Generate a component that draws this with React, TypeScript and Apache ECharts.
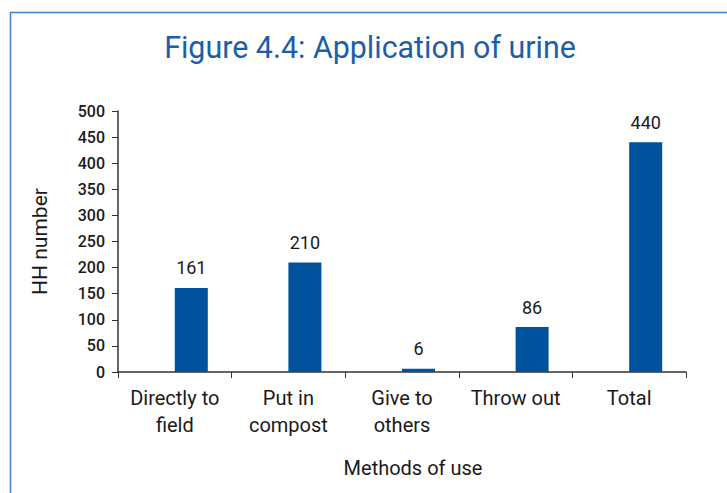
import React, { useEffect, useRef } from "react";
import * as echarts from "echarts";

const categories = ["Directly to\nfield", "Put in\ncompost", "Give to\nothers", "Throw out", "Total"];
const values = [161, 210, 6, 86, 440];
const titleText = "Figure 4.4: Application of urine";
const yAxisName = "HH number";
const xAxisName = "Methods of use";

export default function App() {
  const ref = useRef<HTMLDivElement>(null);
  useEffect(() => {
    if (!ref.current) return;
    const chart = echarts.init(ref.current, null, { renderer: "svg" });
    const font = "Roboto, 'Noto Sans', sans-serif";
    chart.setOption({
      animation: false,
      backgroundColor: "#ffffff",
      graphic: [
        {
          type: "rect",
          shape: { x: 10.5, y: 12.5, width: 800, height: 600 },
          style: { fill: "none", stroke: "#3f7fc2", lineWidth: 1.5 },
          silent: true,
        },
        {
          type: "text",
          x: 370,
          y: 47,
          scaleX: 0.95,
          originX: 0,
          style: {
            text: titleText,
            fill: "#1d5ea8",
            fontSize: 32,
            fontFamily: font,
            fontWeight: "normal",
            align: "center",
            verticalAlign: "middle",
          },
          silent: true,
        },
      ],
      grid: { left: 118, right: 41, top: 111, bottom: 121 },
      xAxis: {
        type: "category",
        data: categories,
        name: xAxisName,
        nameLocation: "middle",
        nameGap: 86,
        nameTextStyle: { color: "#1a1a1a", fontSize: 20, fontFamily: font, padding: [0, 0, 0, 22] },
        axisLine: { lineStyle: { color: "#333", width: 1.5 } },
        axisTick: { show: true, length: 6, alignWithLabel: false, lineStyle: { color: "#333" } },
        axisLabel: { color: "#1a1a1a", fontSize: 20, fontFamily: font, lineHeight: 27, margin: 12, interval: 0 },
      },
      yAxis: {
        type: "value",
        min: 0,
        max: 500,
        interval: 50,
        name: yAxisName,
        nameLocation: "middle",
        nameGap: 68,
        nameTextStyle: { color: "#1a1a1a", fontSize: 21, fontFamily: font },
        axisLine: { show: true, lineStyle: { color: "#333", width: 1.5 } },
        axisTick: { show: true, length: 6, lineStyle: { color: "#333" } },
        splitLine: { show: false },
        axisLabel: { color: "#1a1a1a", fontSize: 16, fontFamily: font, fontWeight: 500, margin: 13 },
      },
      series: [
        {
          type: "bar",
          data: values.map(() => "-"),
          barWidth: 33,
          barGap: "0%",
          itemStyle: { color: "transparent" },
          silent: true,
        },
        {
          type: "bar",
          data: values,
          barWidth: 33,
          barGap: "0%",
          itemStyle: { color: "#00529c" },
          label: {
            show: true,
            position: "top",
            distance: 11,
            color: "#1a1a1a",
            fontSize: 18,
            fontFamily: font,
          },
        },
      ],
    });
    return () => chart.dispose();
  }, []);
  return <div ref={ref} style={{ position: "fixed", left: 0, top: 0, width: 727, height: 493 }} />;
}
